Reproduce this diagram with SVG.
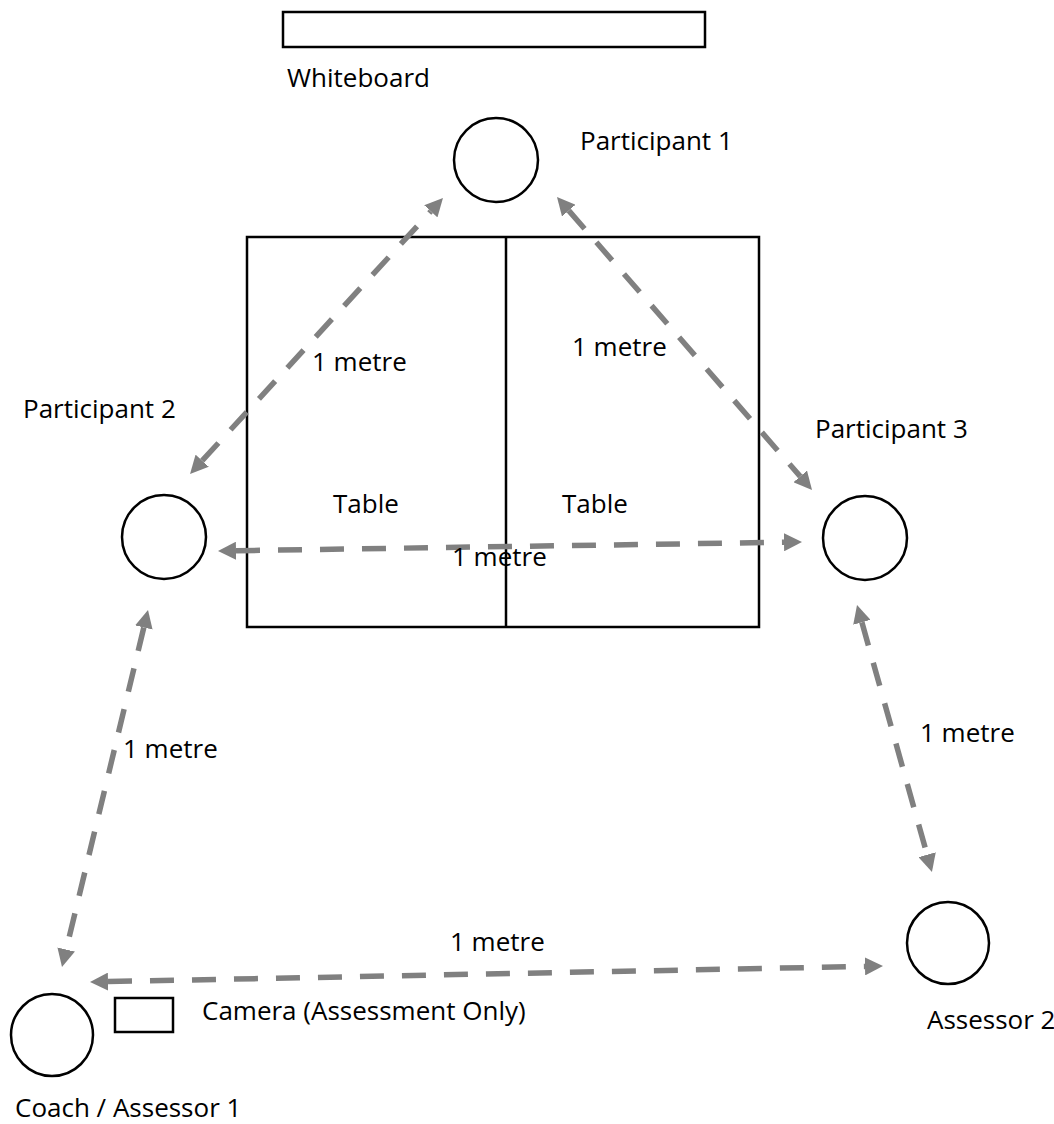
<svg xmlns="http://www.w3.org/2000/svg" width="1054" height="1124" viewBox="0 0 1054 1124">
<style>
.o{fill:#fff;stroke:#000;stroke-width:2.5}
.t{font-family:"Open Sans","Liberation Sans",sans-serif;font-size:26px;fill:#000}
.c{stroke:#808080;stroke-width:5.5;stroke-dasharray:24 18;fill:none;marker-start:url(#ah);marker-end:url(#ah)}
</style>
<defs>
<marker id="ah" markerUnits="userSpaceOnUse" markerWidth="18" markerHeight="18" viewBox="0 0 18 18" refX="0" refY="9" orient="auto-start-reverse">
<path d="M0,0 L18,9 L0,18 z" fill="#808080"/>
</marker>
</defs>
<rect width="1054" height="1124" fill="#fff"/>
<g id="whiteboard">
<rect class="o" x="283" y="12" width="422" height="35"/>
<text class="t" x="287" y="87">Whiteboard</text>
</g>
<g id="table">
<rect class="o" x="247" y="237" width="512" height="390"/>
<line x1="506" y1="237" x2="506" y2="627" stroke="#000" stroke-width="2.5"/>
<text class="t" x="333" y="513">Table</text>
<text class="t" x="562" y="513">Table</text>
</g>
<g id="participant1">
<circle class="o" cx="496" cy="160" r="42"/>
<text class="t" x="580" y="150">Participant 1</text>
</g>
<g id="participant2">
<circle class="o" cx="164" cy="537" r="42"/>
<text class="t" x="23" y="418">Participant 2</text>
</g>
<g id="participant3">
<circle class="o" cx="865" cy="538" r="42"/>
<text class="t" x="815" y="438">Participant 3</text>
</g>
<g id="assessor2">
<circle class="o" cx="948" cy="943" r="41"/>
<text class="t" x="927" y="1029">Assessor 2</text>
</g>
<g id="coach">
<circle class="o" cx="52" cy="1035" r="41"/>
<text class="t" x="15" y="1117">Coach / Assessor 1</text>
</g>
<g id="camera">
<rect class="o" x="115" y="998" width="58" height="34"/>
<text class="t" x="202" y="1020">Camera (Assessment Only)</text>
</g>
<g id="connectors">
<line class="c" x1="202.2" y1="460.7" x2="430.8" y2="211.3"/>
<line class="c" x1="568.8" y1="210.6" x2="800.2" y2="476.4"/>
<line class="c" x1="236" y1="550.7" x2="784" y2="542.3"/>
<line class="c" x1="861.9" y1="622.3" x2="927.1" y2="854.7"/>
<line class="c" x1="143.8" y1="627.5" x2="66.2" y2="949.5"/>
<line class="c" x1="108" y1="981.6" x2="865" y2="966.4"/>
</g>
<g id="labels">
<text class="t" x="312" y="371">1 metre</text>
<text class="t" x="572" y="356">1 metre</text>
<text class="t" x="452" y="566">1 metre</text>
<text class="t" x="123" y="758">1 metre</text>
<text class="t" x="920" y="742">1 metre</text>
<text class="t" x="450" y="951">1 metre</text>
</g>
</svg>
